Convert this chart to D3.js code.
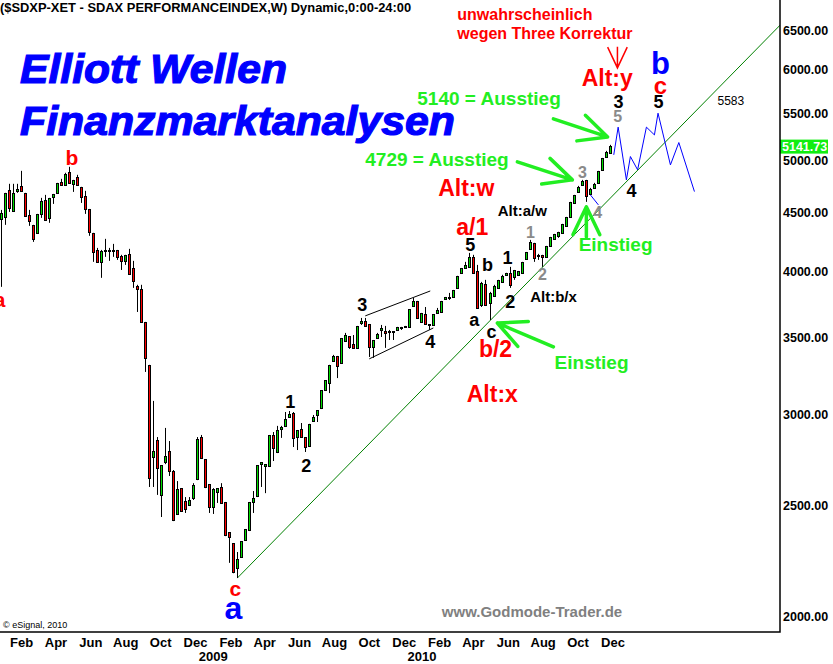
<!DOCTYPE html>
<html>
<head>
<meta charset="utf-8">
<script src="https://cdn.jsdelivr.net/npm/d3@7"></script>
<style>
  body { margin: 0; background: #fff; }
  svg { display: block; }
  text { font-family: "Liberation Sans", Arial, sans-serif; }
  .axis text { font-weight: bold; fill: #000; }
  .axis path, .axis line { display: none; }
</style>
</head>
<body>
<svg width="833" height="664"></svg>
<script>
// weekly candles of the SDAX, one entry per week
var firstWeek = "2007-12-28";
var opens = [4446,4464,4704,4518,4704,4742,4675,4473,4384,4323,4491,4610,4455,4647,4685,4780,4761,4878,4771,4829,
  4732,4647,4527,4314,4169,4078,4169,4165,4169,4169,4119,4086,4136,4020,3878,3854,3606,3308,2754,2844,
  2552,2726,2782,2672,2456,2582,2516,2501,2536,2635,2862,2737,2603,2491,2567,2587,2511,2364,2312,2203,
  2253,2330,2378,2516,2546,2715,2705,2705,2873,2782,2914,2932,2985,3003,2867,2908,2862,2816,2961,2997,
  3039,3151,3196,3341,3368,3328,3478,3506,3451,3430,3606,3614,3592,3437,3499,3556,3542,3535,3535,3556,
  3570,3578,3578,3732,3762,3614,3665,3585,3592,3680,3687,3785,3792,3800,3870,3989,4028,4037,4111,3997,
  3740,3894,3755,3808,3870,3917,3973,3981,3957,3973,3989,4102,4186,4228,4127,4127,4119,4211,4271,4297,
  4323,4384,4464,4591,4694,4761,4799,4675,4732,4780,4907,5036,5077];
var highs = [4527,4685,4771,4771,4771,4897,4685,4527,4393,4491,4638,4666,4638,4675,4780,4819,4878,4937,4809,4858,
  4742,4704,4536,4323,4194,4177,4271,4194,4228,4177,4136,4136,4186,4086,3894,3894,3614,3315,3083,2867,
  2710,2920,2844,2683,2624,2587,2541,2541,2613,2867,2879,2743,2608,2587,2587,2613,2516,2368,2316,2275,
  2326,2383,2516,2572,2710,2726,2710,2879,2896,2932,2932,3015,3021,3015,2908,2949,2867,2944,2997,3027,
  3151,3215,3315,3382,3375,3499,3535,3513,3520,3585,3643,3643,3599,3485,3535,3592,3585,3556,3542,3578,
  3578,3585,3709,3792,3770,3680,3724,3599,3672,3717,3770,3800,3831,3854,3965,4028,4078,4152,4136,4053,
  3917,3933,3839,3894,3933,3973,3989,4037,4012,4004,4078,4160,4262,4237,4144,4136,4211,4288,4314,4332,
  4402,4464,4601,4666,4751,4809,4809,4732,4780,4897,5026,5098,5160];
var lows = [3878,4393,4509,4509,4685,4694,4464,4384,4245,4314,4455,4428,4411,4582,4675,4751,4751,4771,4694,4751,
  4591,4491,4297,4078,4069,3949,4119,4086,4119,4094,4012,4053,3973,3870,3687,3606,3268,2593,2593,2552,
  2441,2715,2651,2421,2451,2466,2461,2496,2526,2629,2743,2587,2461,2456,2511,2506,2349,2226,2180,2159,
  2248,2326,2373,2461,2541,2593,2561,2699,2732,2776,2862,2926,2979,2810,2793,2862,2782,2810,2955,2955,
  3033,3145,3132,3335,3228,3321,3471,3423,3423,3423,3592,3578,3368,3362,3492,3506,3430,3485,3485,3549,
  3556,3570,3570,3724,3636,3606,3592,3556,3585,3672,3680,3777,3777,3792,3862,3981,4020,4028,3981,3709,
  3724,3732,3628,3800,3862,3910,3965,3870,3933,3965,3981,4094,4177,4078,4094,4037,4111,4203,4262,4280,
  4314,4376,4455,4582,4685,4751,4601,4666,4723,4771,4897,5026,5067];
var closes = [4491,4675,4545,4675,4710,4704,4473,4428,4271,4482,4601,4437,4628,4666,4771,4761,4858,4780,4799,4761,
  4647,4536,4332,4160,4078,4160,4165,4169,4165,4119,4086,4127,3981,3925,3862,3614,3362,2640,2782,2694,
  2705,2754,2678,2426,2577,2471,2481,2521,2598,2850,2748,2593,2491,2577,2582,2511,2354,2345,2185,2239,
  2321,2378,2511,2531,2705,2721,2708,2873,2805,2902,2920,2967,2997,2862,2902,2867,2810,2938,2979,3021,
  3145,3209,3308,3368,3308,3492,3513,3437,3430,3578,3610,3585,3437,3478,3520,3560,3535,3538,3538,3570,
  3572,3580,3702,3762,3643,3672,3599,3588,3665,3695,3762,3792,3795,3846,3957,4020,4045,4111,3989,3717,
  3902,3740,3823,3878,3925,3957,3981,3894,4004,3997,4069,4152,4237,4111,4130,4119,4203,4280,4306,4323,
  4393,4455,4591,4657,4732,4790,4657,4713,4761,4888,5016,5077,5141.73];

var lastPrice = 5141.73;
var yTicks = [2000, 2500, 3000, 3500, 4000, 4500, 5000, 5500, 6000, 6500];
var yearTicks = ["2009-01-01", "2010-01-01"];

// trend line and channel, in weeks after the first bar
var trendWeeks = [59, 194.7], trendValues = [2159, 6570];
var channelTopWeeks = [90.96, 107.2], channelTopValues = [3658, 3846];
var channelLowWeeks = [91.96, 107.96], channelLowValues = [3355, 3570];

// projected path (blue)
var projWeeks = [153.04, 154.14, 156.2, 157.2, 159.0, 161.2, 163.2, 164.1, 167.2, 169.3, 173.2];
var projValues = [5057, 5347, 4809, 5040, 4907, 5347, 5264, 5499, 4956, 5184, 4697];
var projShortWeeks = [147.2, 149.2], projShortValues = [4666, 4573];

// wave counts and notes
var waveLabels = [
  {text: "a", week: -0.4, price: 3777, kind: "red"},
  {text: "b", week: 17.7, price: 5026, kind: "red"},
  {text: "c", week: 58.5, price: 2116, kind: "red"},
  {text: "a", week: 58.0, price: 2034, kind: "blue"},
  {text: "1", week: 72.2, price: 3077, kind: "black"},
  {text: "2", week: 76.2, price: 2705, kind: "black"},
  {text: "3", week: 90.2, price: 3739, kind: "black"},
  {text: "4", week: 107.2, price: 3471, kind: "black"},
  {text: "5", week: 117.2, price: 4219, kind: "black"},
  {text: "a/1", week: 117.7, price: 4375, kind: "redBig"},
  {text: "b", week: 121.5, price: 4053, kind: "black"},
  {text: "a", week: 118.2, price: 3628, kind: "black"},
  {text: "c", week: 122.5, price: 3542, kind: "black"},
  {text: "b/2", week: 123.5, price: 3423, kind: "redBig"},
  {text: "Alt:x", week: 122.7, price: 3126, kind: "redBig"},
  {text: "Alt:w", week: 116.2, price: 4732, kind: "redBig"},
  {text: "1", week: 126.5, price: 4111, kind: "black"},
  {text: "2", week: 127.2, price: 3762, kind: "black"},
  {text: "Alt:a/w", week: 130.2, price: 4518, kind: "alt"},
  {text: "Alt:b/x", week: 138.0, price: 3800, kind: "alt"},
  {text: "1", week: 132.2, price: 4323, kind: "gray"},
  {text: "2", week: 135.2, price: 3973, kind: "gray"},
  {text: "3", week: 145.2, price: 4878, kind: "gray"},
  {text: "4", week: 149.0, price: 4500, kind: "gray"},
  {text: "5", week: 154.0, price: 5458, kind: "gray"},
  {text: "3", week: 154.2, price: 5626, kind: "black"},
  {text: "Alt:y", week: 151.4, price: 5904, kind: "redBig"},
  {text: "b", week: 164.7, price: 6075, kind: "blueB"},
  {text: "c", week: 164.7, price: 5810, kind: "redC"},
  {text: "5", week: 164.2, price: 5626, kind: "black"},
  {text: "4", week: 157.5, price: 4704, kind: "black"},
  {text: "Einstieg", week: 153.5, price: 4219, kind: "green"},
  {text: "Einstieg", week: 147.5, price: 3328, kind: "green"}
];
var noteLabels = [
  {text: "unwahrscheinlich", week: 113.96, price: 6702, kind: "note"},
  {text: "wegen Three Korrektur", week: 113.96, price: 6451, kind: "note"},
  {text: "5140 = Ausstieg", week: 103.96, price: 5660, kind: "green"},
  {text: "4729 = Ausstieg", week: 90.96, price: 5006, kind: "green"},
  {text: "5583", week: 178.96, price: 5637, kind: "plain"}
];
var greenArrows = [
  {tipWeek: 151.5, tipPrice: 5243, tailWeek: 137.96, tailPrice: 5437},
  {tipWeek: 142.7, tipPrice: 4809, tailWeek: 128.96, tailPrice: 4986},
  {tipWeek: 146.2, tipPrice: 4555, tailWeek: 146.2, tailPrice: 4288},
  {tipWeek: 123.96, tipPrice: 3606, tailWeek: 137.96, tailPrice: 3437}
];
var redArrows = [
  {tipWeek: 153.96, tipPrice: 6024, tailWeek: 153.96, tailPrice: 6285}
];

var styles = {
  red:    {fill: "#ff0000", size: 21},
  redBig: {fill: "#ff0000", size: 23},
  redC:   {fill: "#ff0000", size: 24},
  black:  {fill: "#000000", size: 18},
  gray:   {fill: "#8a8a8a", size: 16},
  blue:   {fill: "#0000ff", size: 32},
  blueB:  {fill: "#0000ff", size: 31},
  alt:    {fill: "#000000", size: 15},
  green:  {fill: "#22ee22", size: 19},
  note:   {fill: "#ff0000", size: 16},
  plain:  {fill: "#000000", size: 12, weight: "normal"}
};

var svg = d3.select("svg"),
    margin = {top: 0, right: 53, bottom: 32, left: 0},
    width = +svg.attr("width") - margin.left - margin.right,
    height = +svg.attr("height") - margin.top - margin.bottom;

var parse = d3.timeParse("%Y-%m-%d"),
    start = parse(firstWeek);

function weekDate(k) { return new Date(start.getTime() + k * 7 * 864e5); }

// add scales
var x = d3.scaleTime()
    .domain([parse("2007-12-26"), parse("2011-09-20")])
    .range([0, width]);
var y = d3.scaleLog()
    .domain([1937, 6905])
    .range([height, 0]);

function wx(k) { return x(weekDate(k)); }

var candles = closes.map(function(c, i) {
  return {date: weekDate(i), open: opens[i], high: highs[i], low: lows[i], close: c};
});

svg.append("defs").append("clipPath")
    .attr("id", "plot")
  .append("rect")
    .attr("width", width)
    .attr("height", height);

var chart = svg.append("g")
    .attr("transform", "translate(" + margin.left + "," + margin.top + ")");

var plot = chart.append("g")
    .attr("clip-path", "url(#plot)");

// static headings
chart.append("text")
    .attr("x", 0)
    .attr("y", 12)
    .style("font-size", "12.9px")
    .style("font-weight", "bold")
    .text("($SDXP-XET - SDAX PERFORMANCEINDEX,W) Dynamic,0:00-24:00");

[["Elliott Wellen", 83, 267], ["Finanzmarktanalysen", 135, 435]].forEach(function(t) {
  chart.append("text")
      .attr("x", 20)
      .attr("y", t[1])
      .attr("textLength", t[2])
      .attr("lengthAdjust", "spacingAndGlyphs")
      .style("font-size", "40px")
      .style("font-weight", "bold")
      .style("font-style", "italic")
      .style("fill", "#0000ff")
      .style("stroke", "#0000ff")
      .style("stroke-width", 1.2)
      .text(t[0]);
});

chart.append("text")
    .attr("x", 532)
    .attr("y", 617)
    .attr("text-anchor", "middle")
    .style("font-size", "15px")
    .style("font-weight", "bold")
    .style("fill", "#808080")
    .text("www.Godmode-Trader.de");

chart.append("text")
    .attr("x", 3)
    .attr("y", 628)
    .style("font-size", "9px")
    .text("\u00a9 eSignal, 2010");

// trend line
var line = d3.line()
    .x(function(d) { return wx(d[0]); })
    .y(function(d) { return y(d[1]); });

plot.append("path")
    .datum(d3.zip(trendWeeks, trendValues))
    .attr("d", line)
    .attr("fill", "none")
    .attr("stroke", "#008000")
    .attr("stroke-width", 1);

// channel around wave 4
[[channelTopWeeks, channelTopValues], [channelLowWeeks, channelLowValues]].forEach(function(c) {
  plot.append("path")
      .datum(d3.zip(c[0], c[1]))
      .attr("d", line)
      .attr("fill", "none")
      .attr("stroke", "#000")
      .attr("stroke-width", 1);
});

// candles
var candle = plot.selectAll(".candle")
    .data(candles)
  .enter().append("g")
    .attr("class", "candle")
    .attr("transform", function(d) { return "translate(" + Math.round(x(d.date)) + ",0)"; });

candle.append("line")
    .attr("x1", 0.5)
    .attr("x2", 0.5)
    .attr("y1", function(d) { return y(d.high); })
    .attr("y2", function(d) { return y(d.low); })
    .attr("stroke", "#000")
    .attr("stroke-width", 1);

candle.append("rect")
    .attr("x", -0.5)
    .attr("width", 2)
    .attr("y", function(d) { return Math.round(y(Math.max(d.open, d.close))) - 0.5; })
    .attr("height", function(d) { return Math.max(1, Math.round(Math.abs(y(d.open) - y(d.close))) + 1); })
    .attr("fill", function(d) { return d.close >= d.open ? "#00dd00" : "#ff0000"; })
    .attr("stroke", "#000")
    .attr("stroke-width", 1);

// projection
[[projWeeks, projValues], [projShortWeeks, projShortValues]].forEach(function(p) {
  plot.append("path")
      .datum(d3.zip(p[0], p[1]))
      .attr("d", line)
      .attr("fill", "none")
      .attr("stroke", "#0000ff")
      .attr("stroke-width", 1);
});

// arrows
function arrowPath(a, len, ang) {
  var tx = wx(a.tipWeek), ty = y(a.tipPrice),
      sx = wx(a.tailWeek), sy = y(a.tailPrice),
      th = Math.atan2(sy - ty, sx - tx);
  return "M" + sx + "," + sy + "L" + tx + "," + ty +
    "M" + (tx + len * Math.cos(th + ang)) + "," + (ty + len * Math.sin(th + ang)) +
    "L" + tx + "," + ty +
    "L" + (tx + len * Math.cos(th - ang)) + "," + (ty + len * Math.sin(th - ang));
}

plot.selectAll(".arrow.green")
    .data(greenArrows)
  .enter().append("path")
    .attr("class", "arrow green")
    .attr("d", function(d) { return arrowPath(d, 31, 0.45); })
    .attr("fill", "none")
    .attr("stroke", "#22ee22")
    .attr("stroke-width", 3.5)
    .attr("stroke-linecap", "round")
    .attr("stroke-linejoin", "round");

plot.selectAll(".arrow.red")
    .data(redArrows)
  .enter().append("path")
    .attr("class", "arrow red")
    .attr("d", function(d) { return arrowPath(d, 23, 0.44); })
    .attr("fill", "none")
    .attr("stroke", "#ff0000")
    .attr("stroke-width", 1.5);

// labels
function styleLabel(sel) {
  sel.style("font-size", function(d) { return styles[d.kind].size + "px"; })
    .style("font-weight", function(d) { return styles[d.kind].weight || "bold"; })
    .style("fill", function(d) { return styles[d.kind].fill; })
    .attr("dominant-baseline", "central")
    .text(function(d) { return d.text; });
}

plot.selectAll(".wave")
    .data(waveLabels)
  .enter().append("text")
    .attr("class", "wave")
    .attr("x", function(d) { return wx(d.week); })
    .attr("y", function(d) { return y(d.price); })
    .attr("text-anchor", "middle")
    .call(styleLabel);

plot.selectAll(".note")
    .data(noteLabels)
  .enter().append("text")
    .attr("class", "note")
    .attr("x", function(d) { return wx(d.week); })
    .attr("y", function(d) { return y(d.price); })
    .attr("text-anchor", "start")
    .call(styleLabel);

// y-axis
chart.append("g")
    .attr("class", "y axis")
    .attr("transform", "translate(" + width + ",0)")
    .call(d3.axisRight(y).tickValues(yTicks).tickFormat(d3.format(".2f")).tickSize(0).tickPadding(3))
    .selectAll("text")
    .style("font-size", "12.5px");

// last price marker
var marker = chart.append("g")
    .attr("transform", "translate(" + width + "," + y(lastPrice) + ")");
marker.append("rect")
    .attr("x", 0)
    .attr("y", -7)
    .attr("width", 48)
    .attr("height", 14)
    .attr("fill", "#11ee11");
marker.append("text")
    .attr("x", 2)
    .attr("dy", "0.35em")
    .style("font-size", "12.5px")
    .style("font-weight", "bold")
    .style("fill", "#fff")
    .text(d3.format(".2f")(lastPrice));

// x-axis
var monthTicks = d3.timeMonths(parse("2008-02-01"), parse("2011-01-01"), 2);
chart.append("g")
    .attr("class", "x axis")
    .attr("transform", "translate(0," + height + ")")
    .call(d3.axisBottom(x).tickValues(monthTicks).tickFormat(d3.timeFormat("%b")).tickSize(0).tickPadding(6))
    .selectAll("text")
    .style("font-size", "13px");

chart.append("g")
    .attr("class", "x axis")
    .attr("transform", "translate(0," + height + ")")
    .call(d3.axisBottom(x).tickValues(yearTicks.map(parse)).tickFormat(d3.timeFormat("%Y")).tickSize(0).tickPadding(20))
    .selectAll("text")
    .style("font-size", "13px");

// frame
chart.append("path")
    .attr("d", "M0," + height + "H" + width + "V0")
    .attr("fill", "none")
    .attr("stroke", "#000")
    .attr("stroke-width", 1.5);
</script>
</body>
</html>
